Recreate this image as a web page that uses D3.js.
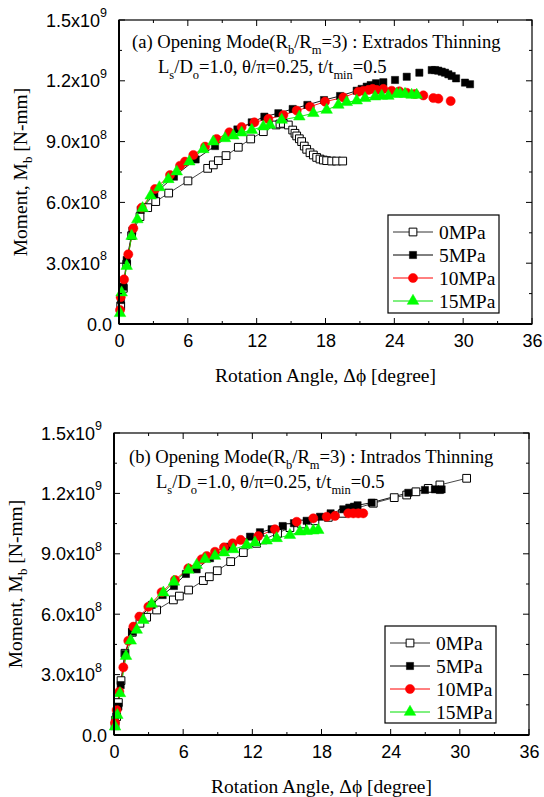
<!DOCTYPE html>
<html>
<head>
<meta charset="utf-8">
<script src="https://cdn.jsdelivr.net/npm/d3@7"></script>
<style>
  html, body { margin: 0; padding: 0; background: #fff; }
  svg { display: block; }
</style>
</head>
<body>
<svg id="chart" width="544" height="797"></svg>
<script>
// ---- Data: rotation angle [degree], moment [N-mm] ----
const pressures = ["0MPa", "5MPa", "10MPa", "15MPa"];
const xTicks = [0, 6, 12, 18, 24, 30, 36];
const yTicks = [0, 0.3e9, 0.6e9, 0.9e9, 1.2e9, 1.5e9];
const yTickMantissa = ["0.0", "3.0", "6.0", "9.0", "1.2", "1.5"];
const yTickExponent = ["", "8", "8", "8", "9", "9"];

// (a) Extrados thinning
const extrados0 = [[0.15,0.089e9],[0.38,0.176e9],[0.67,0.295e9],[1.10,0.436e9],[1.83,0.530e9],[2.50,0.574e9],[3.20,0.604e9],[4.33,0.646e9],[6.01,0.706e9],[7.73,0.768e9],[8.22,0.785e9],[8.66,0.806e9],[9.33,0.831e9],[10.40,0.872e9],[11.48,0.913e9],[12.58,0.949e9],[13.69,0.982e9],[14.03,0.987e9],[14.32,0.990e9],[14.76,0.982e9],[15.14,0.957e9],[15.34,0.941e9],[15.49,0.928e9],[15.72,0.914e9],[15.92,0.900e9],[16.15,0.878e9],[16.36,0.862e9],[16.65,0.845e9],[16.94,0.834e9],[17.23,0.822e9],[17.52,0.814e9],[17.81,0.809e9],[18.10,0.806e9],[18.54,0.804e9],[18.97,0.804e9],[19.50,0.804e9]];
const extrados5 = [[0.17,0.118e9],[0.38,0.184e9],[0.67,0.316e9],[1.16,0.460e9],[1.89,0.563e9],[3.08,0.641e9],[4.79,0.727e9],[6.68,0.812e9],[8.37,0.878e9],[10.32,0.960e9],[11.57,0.995e9],[12.67,1.023e9],[13.89,1.040e9],[15.14,1.061e9],[16.42,1.081e9],[17.87,1.105e9],[19.27,1.125e9],[20.72,1.151e9],[21.15,1.160e9],[21.59,1.171e9],[21.94,1.179e9],[22.40,1.188e9],[23.04,1.193e9],[24.06,1.204e9],[25.08,1.220e9],[26.18,1.240e9],[27.26,1.253e9],[27.55,1.253e9],[27.83,1.250e9],[28.13,1.245e9],[28.42,1.240e9],[28.71,1.232e9],[29.00,1.224e9],[29.38,1.212e9],[30.16,1.191e9],[30.60,1.183e9]];
const extrados10 = [[0.09,0.069e9],[0.15,0.132e9],[0.44,0.220e9],[0.81,0.344e9],[1.25,0.472e9],[1.98,0.574e9],[3.14,0.666e9],[4.45,0.735e9],[5.32,0.781e9],[5.75,0.801e9],[6.48,0.834e9],[7.50,0.875e9],[8.51,0.913e9],[9.62,0.946e9],[10.69,0.972e9],[11.80,0.995e9],[13.02,1.012e9],[14.33,1.031e9],[15.49,1.053e9],[16.65,1.072e9],[17.96,1.097e9],[19.56,1.118e9],[20.86,1.146e9],[21.30,1.151e9],[21.74,1.155e9],[22.11,1.160e9],[22.46,1.155e9],[23.04,1.160e9],[23.77,1.151e9],[24.44,1.148e9],[25.08,1.141e9],[25.80,1.135e9],[26.53,1.128e9],[27.40,1.115e9],[27.84,1.112e9],[28.91,1.100e9]];
const extrados15 = [[0.09,0.053e9],[0.23,0.155e9],[0.67,0.286e9],[1.10,0.434e9],[1.60,0.516e9],[2.06,0.571e9],[2.76,0.633e9],[3.52,0.674e9],[4.30,0.714e9],[5.03,0.752e9],[6.13,0.801e9],[7.35,0.862e9],[8.22,0.900e9],[9.24,0.916e9],[9.97,0.929e9],[10.69,0.944e9],[11.57,0.957e9],[12.58,0.974e9],[13.16,0.982e9],[14.18,1.007e9],[15.72,1.023e9],[16.94,1.040e9],[18.10,1.056e9],[19.12,1.081e9],[19.85,1.094e9],[20.72,1.102e9],[21.45,1.114e9],[22.32,1.122e9],[22.90,1.125e9],[23.48,1.125e9],[24.21,1.135e9],[24.50,1.135e9],[24.93,1.135e9],[25.51,1.130e9],[25.95,1.130e9]];

// (b) Intrados thinning
const intrados0 = [[0.09,0.046e9],[0.23,0.091e9],[0.38,0.161e9],[0.61,0.270e9],[0.95,0.406e9],[1.59,0.510e9],[2.25,0.555e9],[2.83,0.585e9],[3.70,0.621e9],[5.15,0.671e9],[5.67,0.690e9],[6.47,0.720e9],[7.75,0.767e9],[8.27,0.786e9],[8.96,0.816e9],[10.12,0.861e9],[11.22,0.906e9],[12.37,0.952e9],[12.95,0.969e9],[14.19,1.002e9],[15.26,1.030e9],[16.28,1.048e9],[17.43,1.064e9],[18.59,1.081e9],[19.83,1.101e9],[20.99,1.126e9],[22.49,1.151e9],[24.31,1.179e9],[25.39,1.192e9],[26.19,1.208e9],[27.26,1.225e9],[28.27,1.242e9],[30.59,1.275e9]];
const intrados5 = [[0.09,0.075e9],[0.38,0.141e9],[0.58,0.248e9],[0.95,0.402e9],[1.59,0.513e9],[2.31,0.588e9],[3.27,0.646e9],[4.22,0.695e9],[5.20,0.740e9],[6.24,0.800e9],[7.17,0.823e9],[8.33,0.878e9],[10.00,0.935e9],[11.80,0.985e9],[12.66,1.007e9],[13.67,1.022e9],[14.63,1.038e9],[15.61,1.052e9],[16.71,1.064e9],[17.87,1.084e9],[18.79,1.101e9],[19.89,1.121e9],[20.41,1.129e9],[20.82,1.134e9],[21.13,1.141e9],[22.35,1.154e9],[25.53,1.203e9],[26.97,1.217e9],[27.84,1.220e9],[28.27,1.217e9],[28.42,1.220e9]];
const intrados10 = [[0.09,0.061e9],[0.23,0.124e9],[0.46,0.215e9],[0.81,0.336e9],[1.24,0.468e9],[1.68,0.538e9],[2.20,0.588e9],[2.98,0.637e9],[4.13,0.709e9],[5.29,0.770e9],[6.45,0.828e9],[7.60,0.873e9],[8.04,0.889e9],[8.76,0.910e9],[9.54,0.932e9],[10.29,0.952e9],[10.99,0.969e9],[12.52,0.988e9],[13.96,1.022e9],[15.85,1.059e9],[17.29,1.076e9],[18.45,1.084e9],[19.17,1.088e9],[20.32,1.101e9],[20.76,1.101e9],[21.19,1.101e9],[21.62,1.101e9]];
const intrados15 = [[0.09,0.041e9],[0.29,0.099e9],[0.52,0.207e9],[1.04,0.392e9],[1.45,0.468e9],[1.97,0.522e9],[2.54,0.571e9],[3.27,0.651e9],[4.28,0.707e9],[5.20,0.761e9],[6.45,0.820e9],[7.17,0.844e9],[7.89,0.873e9],[8.76,0.889e9],[9.54,0.906e9],[10.35,0.922e9],[11.51,0.944e9],[12.23,0.955e9],[13.24,0.965e9],[14.11,0.977e9],[15.26,0.993e9],[16.13,1.010e9],[16.71,1.013e9],[17.29,1.015e9],[17.72,1.018e9]];

// ---- Series styles ----
const styles = [
  { shape: d3.symbolSquare,   size: 60, fill: "#fff",    stroke: "#000", line: "#333" },
  { shape: d3.symbolSquare,   size: 52, fill: "#000",    stroke: "#000", line: "#000" },
  { shape: d3.symbolCircle,   size: 66, fill: "#ff0000", stroke: "#ff0000", line: "#ff0000" },
  { shape: d3.symbolTriangle, size: 58, fill: "#00ff00", stroke: "#00ff00", line: "#00e000" }
];

const svg = d3.select("#chart");
const serif = "'Liberation Serif', 'Times New Roman', serif";
const sans = "'Liberation Sans', Arial, sans-serif";

function drawPanel(p) {
  const x = d3.scaleLinear().domain([0, 36]).range([p.left, p.right]);
  const y = d3.scaleLinear().domain([0, 1.5e9]).range([p.bottom, p.top]);
  const g = svg.append("g");

  // Series lines and markers
  p.series.forEach((data, i) => {
    const st = styles[i];
    const lim = p.lineLimit[i];
    const lineData = data.filter(d => d[0] <= lim);
    g.append("path")
      .datum(lineData)
      .attr("fill", "none")
      .attr("stroke", st.line)
      .attr("stroke-width", 0.9)
      .attr("d", d3.line().x(d => x(d[0])).y(d => y(d[1])));
  });
  p.series.forEach((data, i) => {
    const st = styles[i];
    g.selectAll(null).data(data).enter().append("path")
      .attr("transform", d => `translate(${x(d[0])},${y(d[1])})`)
      .attr("d", d3.symbol().type(st.shape).size(st.size))
      .attr("fill", st.fill)
      .attr("stroke", st.stroke)
      .attr("stroke-width", i === 0 ? 1 : 0.5);
  });

  // Frame
  g.append("rect")
    .attr("x", p.left).attr("y", p.top)
    .attr("width", p.right - p.left).attr("height", p.bottom - p.top)
    .attr("fill", "none").attr("stroke", "#000").attr("stroke-width", 1.2);
  g.append("line").attr("x1", p.left).attr("x2", p.left).attr("y1", p.top).attr("y2", p.bottom)
    .attr("stroke", "#000").attr("stroke-width", 2);
  g.append("line").attr("x1", p.left).attr("x2", p.right).attr("y1", p.bottom).attr("y2", p.bottom)
    .attr("stroke", "#000").attr("stroke-width", 2);

  // Inward ticks on all four sides (major + minor)
  const tickG = g.append("g").attr("stroke", "#000").attr("stroke-width", 1);
  d3.range(0, 36.1, 3).forEach((v, k) => {
    const len = k % 2 === 0 ? 6 : 3;
    tickG.append("line").attr("x1", x(v)).attr("x2", x(v)).attr("y1", p.bottom).attr("y2", p.bottom - len);
    tickG.append("line").attr("x1", x(v)).attr("x2", x(v)).attr("y1", p.top).attr("y2", p.top + len);
  });
  d3.range(0, 1.5e9 + 1, 0.15e9).forEach((v, k) => {
    const len = k % 2 === 0 ? 6 : 3;
    tickG.append("line").attr("x1", p.left).attr("x2", p.left + len).attr("y1", y(v)).attr("y2", y(v));
    tickG.append("line").attr("x1", p.right).attr("x2", p.right - len).attr("y1", y(v)).attr("y2", y(v));
  });

  // X tick labels via axis generator
  const xAxis = d3.axisBottom(x).tickValues(xTicks).tickSize(0).tickPadding(0).tickFormat(d3.format("d"));
  const xa = g.append("g").attr("transform", `translate(0,${p.bottom + 8})`).call(xAxis);
  xa.select(".domain").remove();
  xa.selectAll("text").attr("font-family", sans).attr("font-size", 18).attr("fill", "#000")
    .attr("dy", "0.85em");

  // Y tick labels with superscript exponents
  yTicks.forEach((v, k) => {
    const t = g.append("text")
      .attr("x", k === 0 ? p.left - 7 : p.left - 19)
      .attr("y", y(v) + 6.5)
      .attr("text-anchor", "end")
      .attr("font-family", sans).attr("font-size", 18).attr("fill", "#000");
    if (yTickExponent[k]) {
      t.text(yTickMantissa[k] + "x10");
      g.append("text")
        .attr("x", p.left - 19).attr("y", y(v) - 3)
        .attr("font-family", sans).attr("font-size", 12.5).attr("fill", "#000")
        .text(yTickExponent[k]);
    } else {
      t.text(yTickMantissa[k]);
    }
  });

  // Axis titles
  g.append("text")
    .attr("x", (p.left + p.right) / 2).attr("y", p.bottom + 58)
    .attr("text-anchor", "middle").attr("font-family", serif).attr("font-size", 19.5)
    .text("Rotation Angle, \u0394\u03D5 [degree]");

  const cy = (p.top + p.bottom) / 2;
  const yt = g.append("text")
    .attr("transform", `translate(${p.yLabelX},${cy}) rotate(-90)`)
    .attr("text-anchor", "middle").attr("font-family", serif).attr("font-size", 19.5);
  yt.append("tspan").text("Moment, M");
  yt.append("tspan").attr("font-size", 13).attr("dy", 5).text("b");
  yt.append("tspan").attr("dy", -5).text(" [N-mm]");

  // Annotation
  const a1 = g.append("text").attr("x", p.noteX).attr("y", p.noteY)
    .attr("font-family", serif).attr("font-size", 18.6);
  a1.append("tspan").text(p.noteHead + "Opening Mode(R");
  a1.append("tspan").attr("font-size", 12.5).attr("dy", 6).text("b");
  a1.append("tspan").attr("dy", -6).text("/R");
  a1.append("tspan").attr("font-size", 12.5).attr("dy", 6).text("m");
  a1.append("tspan").attr("dy", -6).text("=3) : " + p.noteTail);

  const a2 = g.append("text").attr("x", p.note2X).attr("y", p.noteY + 25)
    .attr("font-family", serif).attr("font-size", 18.6);
  a2.append("tspan").text("L");
  a2.append("tspan").attr("font-size", 12.5).attr("dy", 6).text("s");
  a2.append("tspan").attr("dy", -6).text("/D");
  a2.append("tspan").attr("font-size", 12.5).attr("dy", 6).text("o");
  a2.append("tspan").attr("dy", -6).text("=1.0, \u03B8/\u03C0=0.25, t/t");
  a2.append("tspan").attr("font-size", 12.5).attr("dy", 6).text("min");
  a2.append("tspan").attr("dy", -6).text("=0.5");

  // Legend
  const lg = g.append("g");
  lg.append("rect").attr("x", p.legX).attr("y", p.legY)
    .attr("width", p.legW).attr("height", p.legH)
    .attr("fill", "#fff").attr("stroke", "#000").attr("stroke-width", 1.2);
  pressures.forEach((name, i) => {
    const st = styles[i];
    const ly = p.legY + 17 + i * 23;
    lg.append("line").attr("x1", p.legX + 5).attr("x2", p.legX + 45)
      .attr("y1", ly).attr("y2", ly).attr("stroke", st.line).attr("stroke-width", 1);
    lg.append("path").attr("transform", `translate(${p.legX + 25},${ly})`)
      .attr("d", d3.symbol().type(st.shape).size(st.size))
      .attr("fill", st.fill).attr("stroke", st.stroke)
      .attr("stroke-width", i === 0 ? 1 : 0.5);
    lg.append("text").attr("x", p.legX + 51).attr("y", ly + 7)
      .attr("font-family", serif).attr("font-size", 19.5).text(name);
  });
}

drawPanel({
  left: 119, right: 532, top: 20, bottom: 324,
  series: [extrados0, extrados5, extrados10, extrados15],
  lineLimit: [36, 22.5, 24.5, 36],
  yLabelX: 27,
  noteHead: "(a) ", noteTail: "Extrados Thinning",
  noteX: 132, noteY: 48, note2X: 158,
  legX: 388, legY: 215, legW: 111, legH: 98
});

drawPanel({
  left: 114, right: 529, top: 433, bottom: 735,
  series: [intrados0, intrados5, intrados10, intrados15],
  lineLimit: [36, 36, 36, 36],
  yLabelX: 22,
  noteHead: "(b) ", noteTail: "Intrados Thinning",
  noteX: 129, noteY: 463, note2X: 156,
  legX: 385, legY: 626, legW: 111, legH: 97
});
</script>
</body>
</html>
